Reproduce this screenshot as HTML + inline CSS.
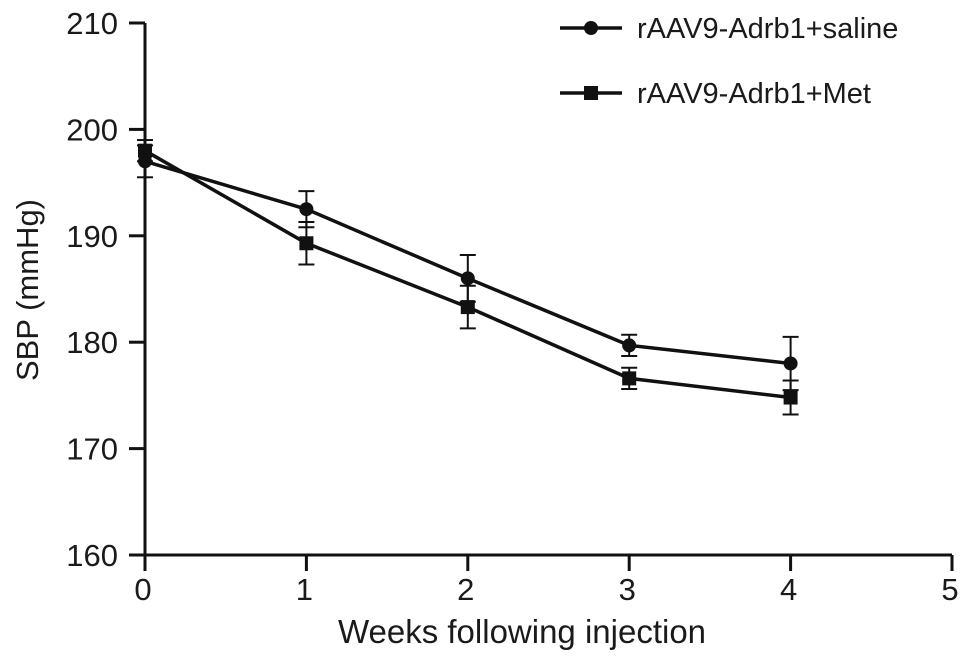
<!DOCTYPE html>
<html><head><meta charset="utf-8"><style>
body{margin:0;background:#fff}
svg text{font-family:"Liberation Sans",Arial,sans-serif;fill:#1a1a1a}
</style></head><body>
<svg id="c" width="970" height="664"></svg>
<script>
const weeks=[0,1,2,3,4];
const salineMean=[197,192.5,186,179.7,178];
const salineErr=[1.5,1.7,2.2,1,2.5];
const metMean=[198,189.3,183.3,176.6,174.8];
const metErr=[1,2,2,1,1.6];
const xTicks=[0,1,2,3,4,5];
const yTicks=[160,170,180,190,200,210];
const svg=document.getElementById('c');
const NS='http://www.w3.org/2000/svg';
const X0=145,X1=952,Y0=555,Y1=23;
const sx=v=>X0+(v-0)/5*(X1-X0);
const sy=v=>Y0-(v-160)/50*(Y0-Y1);
function mk(t,a,p){const e=document.createElementNS(NS,t);for(const k in a)e.setAttribute(k,a[k]);(p||svg).appendChild(e);return e;}
const ax=mk('g',{stroke:'#111','stroke-width':3,fill:'none'});


mk('line',{x1:X0,y1:Y1,x2:X0,y2:Y0+16},ax);
mk('line',{x1:X0-16,y1:Y0,x2:X1,y2:Y0},ax);
yTicks.forEach(v=>{mk('line',{x1:X0-16,y1:sy(v),x2:X0,y2:sy(v)},ax);
 const t=mk('text',{x:118,y:sy(v)+11,'text-anchor':'end','font-size':31});t.textContent=v;
 
 });
xTicks.forEach(v=>{mk('line',{x1:sx(v),y1:Y0,x2:sx(v),y2:Y0+16},ax);
 const t=mk('text',{x:sx(v)-2,y:Y0+45,'text-anchor':'middle','font-size':31});t.textContent=v;
 
 });
const yt=mk('text',{x:0,y:0,'text-anchor':'middle','font-size':31,transform:'translate(38,290) rotate(-90)'});yt.textContent='SBP (mmHg)';


const xt=mk('text',{x:522,y:643,'text-anchor':'middle','font-size':33});xt.textContent='Weeks following injection';


function series(mean,err,shape,name){
 const g=mk('g',{stroke:'#111','stroke-width':3.5,fill:'#111'});
 
 
 mk('polyline',{points:weeks.map((w,i)=>sx(w)+','+sy(mean[i])).join(' '),fill:'none'},g);
 weeks.forEach((w,i)=>{const x=sx(w);
  const e=mk('g',{'stroke-width':2},g);
  mk('line',{x1:x,y1:sy(mean[i]-err[i]),x2:x,y2:sy(mean[i]+err[i])},e);
  mk('line',{x1:x-8,y1:sy(mean[i]-err[i]),x2:x+8,y2:sy(mean[i]-err[i])},e);
  mk('line',{x1:x-8,y1:sy(mean[i]+err[i]),x2:x+8,y2:sy(mean[i]+err[i])},e);
  if(shape==='c')mk('circle',{cx:x,cy:sy(mean[i]),r:7,stroke:'none'},g);
  else mk('rect',{x:x-7,y:sy(mean[i])-7,width:14,height:14,stroke:'none'},g);});
}
series(salineMean,salineErr,'c','series-saline');
series(metMean,metErr,'s','series-met');
[['c',28,'rAAV9-Adrb1+saline'],['s',93,'rAAV9-Adrb1+Met']].forEach(([s,y,l])=>{
 const g=mk('g',{stroke:'#111','stroke-width':3.5,fill:'#111'});
 
 
 mk('line',{x1:560,y1:y,x2:622,y2:y},g);
 if(s==='c')mk('circle',{cx:591,cy:y,r:7,stroke:'none'},g);else mk('rect',{x:584,y:y-7,width:14,height:14,stroke:'none'},g);
 const t=mk('text',{x:637,y:y+10,'font-size':29,stroke:'none'},g);t.textContent=l;});
</script>
</body></html>
